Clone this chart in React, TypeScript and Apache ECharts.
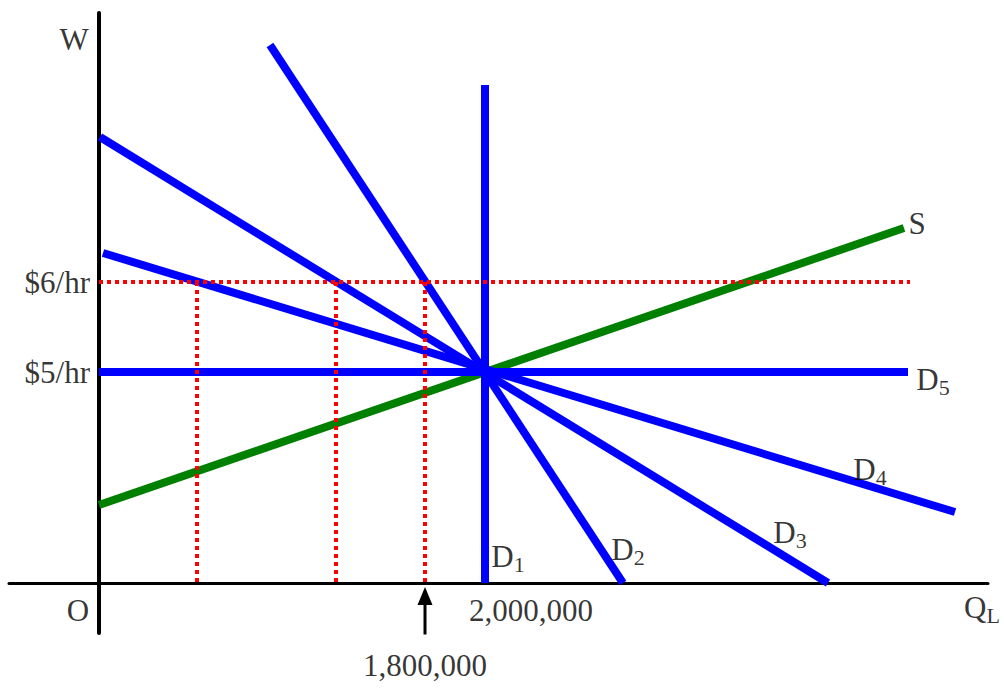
import React, { useEffect, useRef } from 'react';
import * as echarts from 'echarts';

// Schematic labour-market diagram. Units are drawing units measured from the origin O:
// x = quantity of labour, y = wage.
const wageTicks = [
  { label: '$6/hr', value: 301 },
  { label: '$5/hr', value: 211 },
];
const quantityTicks = [
  { label: '2,000,000', value: 386 },
  { label: '1,800,000', value: 326 },
];

const demandNames = ['1', '2', '3', '4', '5'];
const demandStart = [
  [386, 498],
  [171, 538],
  [1, 446],
  [4, 330],
  [0, 211],
];
const demandEnd = [
  [386, 0],
  [524, 0],
  [729, 0],
  [856, 71],
  [809, 211],
];
const supplyStart = [0, 78];
const supplyEnd = [805, 355];

// Quantities demanded at $6/hr on D4, D3 and D2
const dropQuantities = [98, 237, 326];
const wageLineEnd = 811;

const SERIF = "'Liberation Serif', 'Times New Roman', serif";
const BLUE = '#0000ff';
const GREEN = '#008000';
const RED = '#ff0000';

// label offsets (px) from each curve's end point
const demandLabelOffsets = [
  [23, -28],
  [5, -35],
  [-38, -52],
  [-85, -44],
  [25, 6],
];

const rich = {
  m: { fontSize: 31, fontFamily: SERIF, color: '#000', lineHeight: 34, verticalAlign: 'bottom' as const },
  s: { fontSize: 22, fontFamily: SERIF, color: '#000', lineHeight: 34, verticalAlign: 'bottom' as const, padding: [0, 0, -3, 0] },
};

function textPoint(value: number[], formatter: string, offset: number[], extra: any = {}) {
  return {
    value,
    label: {
      show: true,
      formatter,
      offset,
      position: 'inside',
      align: 'center',
      verticalAlign: 'middle',
      fontSize: 31,
      fontFamily: SERIF,
      color: '#000',
      rich,
      ...extra,
    },
  };
}

export default function App() {
  const ref = useRef<HTMLDivElement>(null);

  useEffect(() => {
    if (!ref.current) return;
    const chart = echarts.init(ref.current, null, { renderer: 'svg' });

    const wage6 = wageTicks[0].value;

    const series: any[] = [];

    series.push({
      name: 'S',
      type: 'line',
      data: [supplyStart, supplyEnd],
      symbol: 'none',
      lineStyle: { color: GREEN, width: 8 },
      z: 2,
    });

    demandNames.forEach((n, i) => {
      series.push({
        name: 'D' + n,
        type: 'line',
        data: [demandStart[i], demandEnd[i]],
        symbol: 'none',
        lineStyle: { color: BLUE, width: 8 },
        z: 3,
      });
    });

    series.push({
      name: 'wage6',
      type: 'line',
      data: [
        [0, wage6],
        [wageLineEnd, wage6],
      ],
      symbol: 'none',
      lineStyle: { color: RED, width: 4, type: [4, 4] },
      z: 4,
    });

    dropQuantities.forEach((q, i) => {
      series.push({
        name: 'drop' + i,
        type: 'line',
        data: [
          [q, wage6],
          [q, 0],
        ],
        symbol: 'none',
        lineStyle: { color: RED, width: 4, type: [4, 4] },
        z: 4,
      });
    });

    // Arrow pointing at 1,800,000
    series.push({
      name: 'arrow',
      type: 'line',
      showSymbol: true,
      data: [
        { value: [quantityTicks[1].value, -64], symbol: 'none' },
        { value: [quantityTicks[1].value, -13], symbol: 'triangle', symbolSize: [15, 18] },
      ],
      lineStyle: { color: '#000', width: 3 },
      itemStyle: { color: '#000' },
      z: 5,
    });

    const texts: any[] = [];
    demandNames.forEach((n, i) => {
      texts.push(textPoint(demandEnd[i], `{m|D}{s|${n}}`, demandLabelOffsets[i]));
    });
    texts.push(textPoint(supplyEnd, '{m|S}', [13, -6]));
    texts.push(textPoint([0, 0], '{m|O}', [-21, 26]));
    texts.push(textPoint([0, 545], '{m|W}', [-25, 0]));
    texts.push(textPoint([889, 0], '{m|Q}{s|L}', [-6, 23]));
    texts.push(textPoint([quantityTicks[0].value, 0], quantityTicks[0].label, [46, 27]));
    texts.push(textPoint([quantityTicks[1].value, 0], quantityTicks[1].label, [0, 82]));
    wageTicks.forEach((t) => {
      texts.push(
        textPoint([0, t.value], t.label, [0, 0], {
          position: 'left',
          distance: 9,
          align: 'right',
        })
      );
    });

    series.push({
      name: 'texts',
      type: 'scatter',
      symbolSize: 0,
      data: texts,
      silent: true,
      z: 6,
    });

    chart.setOption({
      animation: false,
      backgroundColor: '#fff',
      grid: { left: 9, right: 16, top: 13, bottom: 56 },
      xAxis: {
        type: 'value',
        min: -90,
        max: 889,
        axisLine: { show: true, onZero: true, lineStyle: { color: '#000', width: 3 } },
        axisTick: { show: false },
        axisLabel: { show: false },
        splitLine: { show: false },
      },
      yAxis: {
        type: 'value',
        min: -50,
        max: 570,
        axisLine: { show: true, onZero: true, lineStyle: { color: '#000', width: 4 } },
        axisTick: { show: false },
        axisLabel: { show: false },
        splitLine: { show: false },
      },
      series,
    });

    return () => chart.dispose();
  }, []);

  return (
    <div
      ref={ref}
      style={{ position: 'fixed', left: 0, top: 0, width: 1004, height: 689, background: '#fff' }}
    />
  );
}
